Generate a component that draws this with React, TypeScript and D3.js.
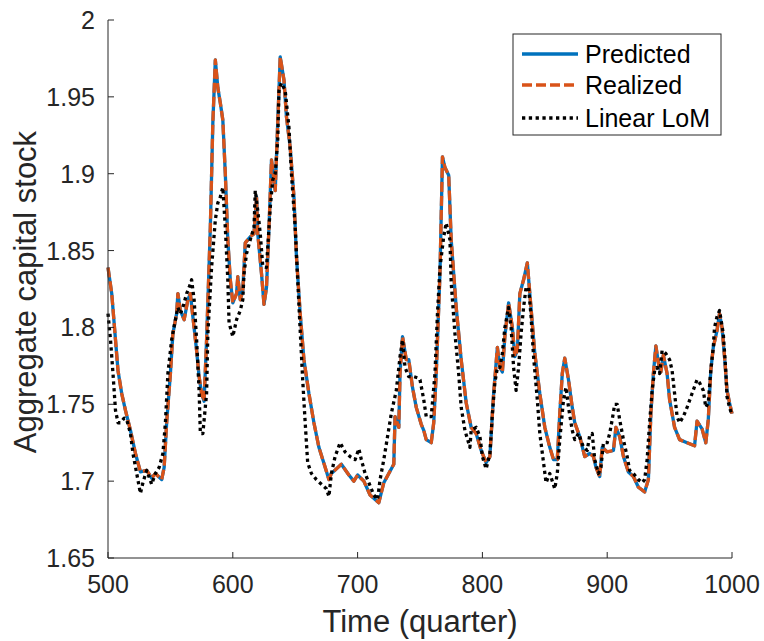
import React from "react";
import * as d3 from "d3";

const predT = [500,503,506,508,511,514,518,522,526,531,535,538,543,545,547,550,552,555,556,558,561,564,566,568,571,573,575,577,579,582,584,586,588,590,592,594,596,598,600,603,604,606,608,610,614,617,619,620,623,625,627,629,631,634,636,638,641,643,646,649,651,654,657,661,665,669,674,677,679,683,687,693,697,700,705,710,717,721,725,729,730,733,734,736,739,741,744,747,751,753,755,759,761,763,766,768,770,773,775,779,783,787,791,795,799,803,806,809,812,814,816,818,821,824,826,828,830,833,836,838,842,846,850,854,857,860,862,864,866,869,872,874,878,882,886,889,891,894,896,900,905,907,910,913,917,921,925,930,933,935,937,939,941,943,945,948,950,954,958,964,970,972,976,979,981,983,985,988,990,992,994,996,998,1000];
const predV = [1.839,1.822,1.792,1.772,1.757,1.746,1.733,1.718,1.706,1.707,1.702,1.705,1.701,1.709,1.738,1.770,1.796,1.809,1.822,1.811,1.805,1.818,1.822,1.807,1.785,1.768,1.757,1.752,1.792,1.865,1.933,1.974,1.956,1.946,1.935,1.900,1.857,1.831,1.816,1.822,1.833,1.818,1.824,1.855,1.859,1.861,1.885,1.861,1.835,1.815,1.826,1.865,1.909,1.889,1.933,1.976,1.961,1.937,1.917,1.885,1.846,1.809,1.779,1.757,1.738,1.722,1.709,1.701,1.705,1.708,1.711,1.704,1.700,1.704,1.700,1.691,1.686,1.699,1.705,1.711,1.742,1.735,1.770,1.794,1.779,1.779,1.761,1.748,1.737,1.733,1.727,1.725,1.738,1.770,1.835,1.911,1.904,1.899,1.857,1.813,1.779,1.751,1.735,1.731,1.720,1.712,1.716,1.757,1.787,1.774,1.771,1.794,1.816,1.800,1.781,1.785,1.822,1.831,1.842,1.822,1.783,1.757,1.735,1.722,1.714,1.714,1.744,1.770,1.780,1.766,1.748,1.738,1.729,1.716,1.718,1.716,1.709,1.703,1.722,1.719,1.720,1.735,1.729,1.716,1.706,1.703,1.696,1.693,1.701,1.744,1.770,1.788,1.777,1.771,1.782,1.770,1.753,1.735,1.727,1.725,1.723,1.739,1.734,1.725,1.740,1.772,1.787,1.798,1.809,1.800,1.781,1.759,1.751,1.744];

const realT = predT;
const realV = predV;

const linT = [500,502,504,506,508,510,513,515,518,520,523,526,528,531,535,538,541,544,546,548,551,554,556,558,560,563,565,567,569,571,573,574,576,579,580,583,586,588,590,592,594,596,597,600,603,606,608,609,611,614,617,618,620,622,624,627,628,630,632,634,636,637,639,642,645,647,650,652,654,656,658,660,663,667,671,675,677,679,682,686,690,694,698,701,703,706,709,713,716,718,721,724,727,731,734,736,738,741,745,749,750,753,755,759,762,764,766,769,771,774,775,778,781,783,786,790,791,795,798,800,803,806,808,810,812,814,816,818,821,823,825,827,829,831,833,835,837,839,841,844,846,849,851,854,858,860,862,865,867,869,872,874,877,881,884,886,888,890,893,895,897,900,902,904,906,908,910,913,916,918,922,925,928,930,932,934,936,938,940,942,944,947,950,952,954,956,958,961,964,968,972,974,977,979,981,983,985,986,988,990,993,995,996,998,1000];
const linV = [1.809,1.792,1.770,1.746,1.738,1.738,1.741,1.740,1.731,1.718,1.705,1.692,1.699,1.707,1.698,1.705,1.709,1.718,1.738,1.770,1.792,1.805,1.813,1.809,1.813,1.822,1.826,1.831,1.818,1.792,1.759,1.731,1.731,1.757,1.796,1.839,1.870,1.881,1.885,1.891,1.865,1.831,1.803,1.794,1.805,1.811,1.818,1.835,1.848,1.857,1.865,1.889,1.876,1.861,1.840,1.839,1.852,1.878,1.896,1.900,1.922,1.954,1.959,1.954,1.930,1.900,1.865,1.831,1.798,1.766,1.738,1.712,1.705,1.701,1.698,1.695,1.690,1.705,1.716,1.725,1.719,1.716,1.714,1.721,1.714,1.705,1.699,1.691,1.688,1.701,1.714,1.729,1.744,1.759,1.781,1.792,1.774,1.768,1.768,1.767,1.766,1.753,1.742,1.742,1.770,1.809,1.839,1.859,1.868,1.857,1.829,1.796,1.770,1.748,1.733,1.722,1.733,1.735,1.729,1.716,1.708,1.718,1.744,1.764,1.774,1.774,1.783,1.800,1.813,1.800,1.774,1.759,1.774,1.796,1.813,1.826,1.826,1.807,1.781,1.753,1.731,1.712,1.699,1.705,1.695,1.705,1.727,1.753,1.761,1.748,1.733,1.727,1.731,1.722,1.720,1.730,1.731,1.714,1.705,1.709,1.725,1.725,1.731,1.740,1.750,1.750,1.740,1.727,1.716,1.707,1.704,1.701,1.699,1.701,1.714,1.738,1.759,1.772,1.774,1.770,1.785,1.783,1.779,1.772,1.757,1.742,1.738,1.742,1.748,1.757,1.766,1.764,1.759,1.748,1.751,1.772,1.787,1.800,1.807,1.811,1.796,1.772,1.755,1.748,1.743];

const xTicks = [500, 600, 700, 800, 900, 1000];
const yTicks = [1.65, 1.7, 1.75, 1.8, 1.85, 1.9, 1.95, 2];
const legendLabels = ["Predicted", "Realized", "Linear LoM"];

const W = 764, H = 641;
const L = 108, R = 732, T = 20, B = 558;
const FONT = "'Liberation Sans', Arial, Helvetica, sans-serif";
const TXT = "#262626";

export default function App() {
  const x = d3.scaleLinear().domain([500, 1000]).range([L, R]);
  const y = d3.scaleLinear().domain([1.65, 2]).range([B, T]);
  const mk = (ts: number[], vs: number[]) =>
    d3.line<number>().x((_, i) => x(ts[i])).y((v) => y(v))(vs) || "";

  const series = [
    { d: mk(predT, predV), color: "#0072BD", dash: undefined, w: 3.3 },
    { d: mk(realT, realV), color: "#D95319", dash: "10 4", w: 3.3 },
    { d: mk(linT, linV), color: "#000000", dash: "3.3 3.5", w: 3.3 },
  ];

  const legX = 513, legY = 34, legW = 208, legH = 101;
  const rowY = [54, 85, 118];

  return (
    <svg width={W} height={H} style={{ position: "absolute", left: 0, top: 0, background: "#fff" }}>
      <rect x={0} y={0} width={W} height={H} fill="#fff" />
      <g fill="none" strokeLinejoin="round">
        {series.map((s, i) => (
          <path key={i} d={s.d} stroke={s.color} strokeWidth={s.w} strokeDasharray={s.dash} />
        ))}
      </g>
      {/* axes */}
      <line x1={L} x2={L} y1={T} y2={B} stroke={TXT} strokeWidth={1} />
      <line x1={L} x2={R} y1={B} y2={B} stroke={TXT} strokeWidth={1} />
      {yTicks.map((t) => (
        <g key={"y" + t}>
          <line x1={L} x2={L + 6} y1={y(t)} y2={y(t)} stroke={TXT} />
          <text x={L - 13} y={y(t)} dy="0.36em" textAnchor="end" fontFamily={FONT} fontSize={25} fill={TXT}>
            {d3.format("~g")(t)}
          </text>
        </g>
      ))}
      {xTicks.map((t) => (
        <g key={"x" + t}>
          <line x1={x(t)} x2={x(t)} y1={B} y2={B - 6} stroke={TXT} />
          <text x={x(t)} y={B + 35} textAnchor="middle" fontFamily={FONT} fontSize={25} fill={TXT}>
            {t}
          </text>
        </g>
      ))}
      <text x={(L + R) / 2} y={632} textAnchor="middle" fontFamily={FONT} fontSize={31} fill={TXT}>
        Time (quarter)
      </text>
      <text transform={`translate(36, ${(T + B) / 2 + 3}) rotate(-90)`} textAnchor="middle" fontFamily={FONT} fontSize={31} fill={TXT}>
        Aggregate capital stock
      </text>
      {/* legend */}
      <rect x={legX} y={legY} width={legW} height={legH} fill="#fff" stroke={TXT} strokeWidth={1} />
      {legendLabels.map((lab, i) => (
        <g key={lab}>
          <line x1={522} x2={578} y1={rowY[i]} y2={rowY[i]} stroke={series[i].color} strokeWidth={3.3} strokeDasharray={series[i].dash} />
          <text x={585} y={rowY[i]} dy="0.36em" fontFamily={FONT} fontSize={25} fill="#000">
            {lab}
          </text>
        </g>
      ))}
    </svg>
  );
}
